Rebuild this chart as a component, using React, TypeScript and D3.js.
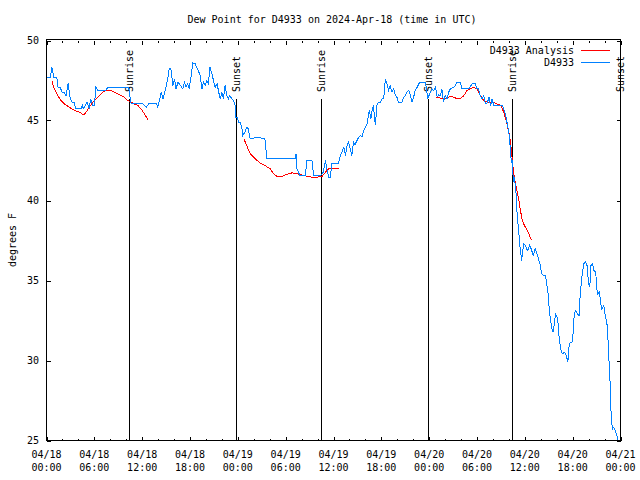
import React from "react";
import * as d3 from "d3";

// Hours since 2024-04-18 00:00 UTC, dew point in °F
const obsHours = [
  0.1, 0.45, 0.69, 0.94, 1.3, 1.44, 1.7, 1.95, 2.2, 2.45, 2.7, 2.95, 3.2, 3.45, 3.7, 4.33, 4.5, 4.6, 5.1, 5.35,
  5.55, 5.8, 6.0, 6.2, 6.4, 7.45, 7.7, 10.3, 10.6, 12.0, 12.5, 12.9, 13.75, 13.96, 14.2, 14.4, 14.6, 14.8, 15.2, 15.4,
  15.6, 15.85, 16.05, 16.25, 16.5, 16.8, 17.1, 17.3, 17.5, 17.7, 17.9, 18.15, 18.35, 18.65, 18.85, 19.06, 19.27, 19.5, 19.7, 19.9,
  20.1, 20.3, 20.5, 20.75, 20.95, 21.15, 21.4, 21.6, 21.8, 22.0, 22.2, 22.4, 22.6, 22.8, 23.0, 23.25, 23.45, 23.67, 23.7, 23.9,
  24.1, 24.3, 24.5, 24.6, 24.9, 25.1, 25.3, 25.55, 25.9, 26.2, 26.8, 27.0, 27.4, 27.65, 31.2, 31.3, 31.4, 31.8, 32.45, 32.67,
  33.3, 33.5, 34.4, 34.7, 35.0, 35.2, 35.4, 35.6, 35.8, 36.6, 36.85, 37.05, 37.3, 37.5, 37.7, 37.9, 38.1, 38.3, 38.5, 38.7,
  38.95, 39.15, 39.36, 39.6, 39.8, 40.0, 40.2, 40.5, 40.7, 40.8, 41.0, 41.25, 41.45, 41.65, 41.9, 42.1, 42.3, 42.5, 42.7, 42.9,
  43.1, 43.35, 43.55, 43.75, 43.95, 44.15, 44.6, 44.8, 45.0, 45.2, 45.45, 45.65, 45.85, 46.05, 46.25, 46.5, 46.7, 46.9, 47.5, 47.7,
  47.8, 48.15, 48.35, 48.55, 48.8, 49.0, 49.2, 49.4, 49.6, 49.8, 50.0, 50.25, 50.45, 50.65, 51.1, 51.3, 51.5, 51.9, 52.1, 52.75,
  53.0, 53.38, 53.8, 54.0, 54.2, 54.4, 54.65, 54.85, 55.05, 55.3, 55.5, 55.7, 55.9, 56.1, 56.5, 57.15, 57.35, 57.55, 57.8, 58.0,
  58.1, 58.2, 58.3, 58.45, 58.55, 58.6, 58.8, 58.9, 59.0, 59.1, 59.25, 59.35, 59.45, 59.6, 59.7, 59.85, 60.1, 60.2, 60.37, 60.6,
  60.8, 61.05, 61.3, 61.45, 61.6, 61.75, 61.95, 62.1, 62.4, 62.6, 62.9, 63.05, 63.2, 63.4, 63.55, 63.7, 63.85, 64.05, 64.2, 64.3,
  64.5, 64.7, 64.97, 65.2, 65.4, 65.5, 65.7, 65.9, 66.05, 66.2, 66.4, 66.55, 66.8, 66.95, 67.2, 67.4, 67.6, 67.8, 68.0, 68.15,
  68.3, 68.5, 68.65, 68.9, 69.0, 69.15, 69.35, 69.5, 69.65, 69.9, 70.1, 70.3, 70.4, 70.5, 70.65, 70.75, 70.85, 71.0, 71.15, 71.35,
  71.6, 71.65,
];
const obsValues = [
  47.67, 47.67, 48.31, 47.67, 47.67, 47.08, 47.08, 46.77, 46.77, 46.56, 47.31, 46.46, 46.14, 46.14, 45.73, 45.73, 45.94, 45.73, 46.14, 45.73,
  46.35, 45.94, 45.94, 47.08, 46.88, 46.88, 47.08, 47.08, 46.08, 46.08, 45.83, 46.08, 46.08, 45.83, 46.35, 46.77, 46.35, 46.67, 47.6, 48.23,
  48.23, 47.19, 47.6, 46.98, 47.4, 47.19, 46.98, 47.4, 47.08, 47.3, 46.98, 47.8, 48.6, 48.54, 48.33, 48.1, 47.8, 46.98, 47.4, 47.2,
  47.5, 47.3, 48.33, 47.9, 47.5, 47.08, 47.3, 46.77, 46.35, 46.77, 46.35, 47.19, 46.56, 46.35, 46.56, 46.35, 46.25, 45.94, 45.2, 45.2,
  44.9, 44.9, 44.58, 44.06, 44.27, 44.58, 44.5, 43.85, 43.85, 43.96, 43.96, 43.85, 43.85, 42.6, 42.6, 42.92, 41.98, 41.56, 41.56, 42.5,
  42.5, 41.56, 41.56, 41.77, 42.5, 41.87, 41.46, 41.46, 42.3, 42.3, 42.8, 43.02, 43.33, 42.8, 43.44, 43.65, 43.23, 42.8, 43.65, 43.5,
  43.75, 43.96, 44.06, 44.0, 44.38, 44.58, 44.79, 45.63, 45.1, 45.52, 45.94, 44.69, 45.94, 46.15, 46.15, 46.35, 46.35, 47.6, 47.29, 46.88,
  47.19, 46.77, 46.98, 46.56, 46.46, 46.15, 46.15, 46.46, 46.56, 46.77, 46.88, 46.56, 46.15, 46.46, 46.88, 47.08, 47.29, 47.4, 47.4, 46.88,
  46.35, 46.77, 46.98, 46.88, 47.08, 46.46, 46.6, 46.56, 46.98, 46.15, 46.56, 46.35, 46.77, 46.98, 47.08, 47.19, 47.4, 47.4, 46.98, 46.98,
  46.98, 47.29, 47.29, 46.98, 46.98, 46.56, 46.35, 46.56, 46.04, 46.1, 46.46, 45.94, 46.35, 45.94, 45.94, 45.94, 45.73, 45.42, 44.79, 44.27,
  43.65, 43.23, 42.4, 42.5, 41.15, 41.56, 41.04, 40.42, 39.38, 38.75, 38.02, 37.29, 36.88, 36.25, 36.67, 37.29, 37.19, 36.98, 36.88, 37.19,
  36.98, 36.56, 36.98, 36.75, 36.56, 36.25, 35.94, 35.42, 35.31, 35.31, 34.27, 33.33, 32.6, 31.98, 31.77, 32.29, 32.92, 32.7, 32.19, 31.46,
  30.73, 30.42, 30.52, 30.31, 29.9, 30.73, 31.15, 31.1, 31.67, 32.92, 33.13, 32.95, 32.8, 34.17, 35.42, 36.04, 36.15, 35.94, 34.79, 34.58,
  35.94, 36.04, 35.63, 35.52, 34.58, 34.17, 34.27, 33.65, 33.23, 33.44, 32.8, 32.29, 31.77, 30.42, 29.27, 27.7, 26.25, 25.73, 25.83, 25.6,
  25.2, 25.0,
];

const analysis1Hours = [0.69, 0.98, 1.4, 1.82, 2.24, 2.86, 3.49, 4.12, 4.67, 4.96, 5.38, 5.8, 6.2, 6.63, 7.05, 7.47, 8.1, 8.5, 8.94, 9.35, 9.77, 10.2, 10.6, 11.0, 11.45, 11.86, 12.28, 12.7];
const analysis1Values = [47.44, 46.98, 46.56, 46.25, 46.04, 45.83, 45.63, 45.52, 45.35, 45.52, 45.83, 46.14, 46.35, 46.56, 46.77, 46.88, 46.88, 46.77, 46.67, 46.56, 46.46, 46.25, 46.14, 46.04, 45.94, 45.73, 45.42, 45.06];
const analysis2Hours = [24.8, 25.1, 25.55, 26.2, 26.8, 27.4, 28.05, 28.5, 28.9, 29.5, 30.15, 30.8, 31.4, 32.0, 32.7, 33.3, 33.9, 34.55, 35.0, 35.4, 35.8, 36.7];
const analysis2Values = [43.81, 43.44, 42.92, 42.6, 42.35, 42.19, 41.98, 41.67, 41.5, 41.5, 41.63, 41.73, 41.67, 41.6, 41.52, 41.46, 41.46, 41.5, 41.77, 41.98, 42.02, 41.98];
const analysis3Hours = [48.9, 49.4, 49.8, 50.25, 50.65, 51.1, 51.5, 51.9, 52.35, 52.75, 53.2, 53.6, 54.0, 54.4, 54.85, 55.5, 56.1, 56.5, 57.0, 57.35, 57.7, 58.0, 58.2, 58.4, 58.6, 58.8, 59.0, 59.25, 59.45, 59.65, 59.85, 60.3, 60.6, 60.8];
const analysis3Values = [46.46, 46.4, 46.35, 46.35, 46.52, 46.46, 46.35, 46.35, 46.56, 46.88, 46.98, 47.08, 46.98, 46.56, 46.25, 46.14, 46.14, 46.04, 45.94, 45.52, 44.9, 44.27, 43.65, 42.71, 41.67, 41.15, 40.63, 40.0, 39.38, 38.85, 38.54, 38.13, 37.81, 37.54];

const eventHours = [10.36, 23.73, 34.38, 47.81, 58.45, 71.92];
const eventLabels = ["Sunrise", "Sunset", "Sunrise", "Sunset", "Sunrise", "Sunset"];

const xTickHours = [0, 6, 12, 18, 24, 30, 36, 42, 48, 54, 60, 66, 72];
const xTickDates = ["04/18", "04/18", "04/18", "04/18", "04/19", "04/19", "04/19", "04/19", "04/20", "04/20", "04/20", "04/20", "04/21"];
const xTickTimes = ["00:00", "06:00", "12:00", "18:00", "00:00", "06:00", "12:00", "18:00", "00:00", "06:00", "12:00", "18:00", "00:00"];
const yTicks = [25, 30, 35, 40, 45, 50];

const title = "Dew Point for D4933 on 2024-Apr-18 (time in UTC)";
const yLabel = "degrees F";
const seriesNames = ["D4933 Analysis", "D4933"];
const seriesColors = ["#ff0000", "#0080ff"];

const W = 640, H = 480;
const L = 46.5, R = 620.5, T = 40.5, B = 440.5;
const FONT = "'DejaVu Sans Mono', 'Liberation Mono', monospace";

export default function App() {
  const x = d3.scaleLinear().domain([0, 72]).range([L, R]);
  const y = d3.scaleLinear().domain([25, 50]).range([B, T]);
  const line = d3.line<[number, number]>().x((d) => x(d[0])).y((d) => y(d[1]));

  const obs: [number, number][] = obsHours.map((h, i) => [h, obsValues[i]]);
  const analysis: [number, number][][] = [
    analysis1Hours.map((h, i) => [h, analysis1Values[i]] as [number, number]),
    analysis2Hours.map((h, i) => [h, analysis2Values[i]] as [number, number]),
    analysis3Hours.map((h, i) => [h, analysis3Values[i]] as [number, number]),
  ];
  const minorTicks = d3.range(0, 73, 2).filter((h) => h % 6 !== 0);
  const px = (v: number) => Math.round(v) + 0.5;

  return (
    <div style={{ position: "absolute", left: 0, top: 0 }}>
      <svg width={W} height={H} style={{ display: "block", background: "#fff" }} fontFamily={FONT} fontSize={10}>
        <rect width={W} height={H} fill="#fff" />
        <text x={332} y={23} textAnchor="middle">{title}</text>
        <text transform="translate(15.5,240) rotate(-90)" textAnchor="middle">{yLabel}</text>

        {/* y ticks */}
        {yTicks.map((t) => (
          <g key={"y" + t} shapeRendering="crispEdges">
            <line x1={L} x2={L + 4} y1={px(y(t)) - 0.5} y2={px(y(t)) - 0.5} stroke="#000" />
            <line x1={R - 4} x2={R} y1={px(y(t)) - 0.5} y2={px(y(t)) - 0.5} stroke="#000" />
            <text x={39} y={y(t)} dy="0.35em" textAnchor="end" shapeRendering="auto">{t}</text>
          </g>
        ))}
        {/* x ticks */}
        {xTickHours.map((h, i) => (
          <g key={"x" + h} shapeRendering="crispEdges">
            <line x1={px(x(h))} x2={px(x(h))} y1={B} y2={B - 4} stroke="#000" />
            <line x1={px(x(h))} x2={px(x(h))} y1={T} y2={T + 4} stroke="#000" />
            <text x={x(h)} y={457.5} textAnchor="middle">{xTickDates[i]}</text>
            <text x={x(h)} y={470.5} textAnchor="middle">{xTickTimes[i]}</text>
          </g>
        ))}
        {minorTicks.map((h) => (
          <g key={"m" + h} shapeRendering="crispEdges">
            <line x1={px(x(h))} x2={px(x(h))} y1={B} y2={B - 2} stroke="#000" />
            <line x1={px(x(h))} x2={px(x(h))} y1={T} y2={T + 2} stroke="#000" />
          </g>
        ))}

        {/* sunrise / sunset */}
        {eventHours.map((h, i) => (
          <g key={"e" + i}>
            <line x1={px(x(h))} x2={px(x(h))} y1={99} y2={B} stroke="#000" shapeRendering="crispEdges" />
            <text transform={`translate(${px(x(h)) + 3.5},92) rotate(-90)`} textAnchor="start">{eventLabels[i]}</text>
          </g>
        ))}

        {/* data */}
        {analysis.map((seg, i) => (
          <path key={"a" + i} d={line(seg) || ""} fill="none" stroke={seriesColors[0]} strokeWidth={1} shapeRendering="crispEdges" />
        ))}
        <path d={line(obs) || ""} fill="none" stroke={seriesColors[1]} strokeWidth={1} shapeRendering="crispEdges" />

        {/* legend */}
        {seriesNames.map((n, i) => (
          <g key={"l" + i}>
            <text x={574} y={53.5 + i * 12.5} textAnchor="end">{n}</text>
            <line x1={581} x2={610} y1={50.5 + i * 12} y2={50.5 + i * 12} stroke={seriesColors[i]} shapeRendering="crispEdges" />
          </g>
        ))}

        {/* frame */}
        <rect x={L} y={T - 1} width={R - L} height={B - T + 1} fill="none" stroke="#000" shapeRendering="crispEdges" />
      </svg>
    </div>
  );
}
